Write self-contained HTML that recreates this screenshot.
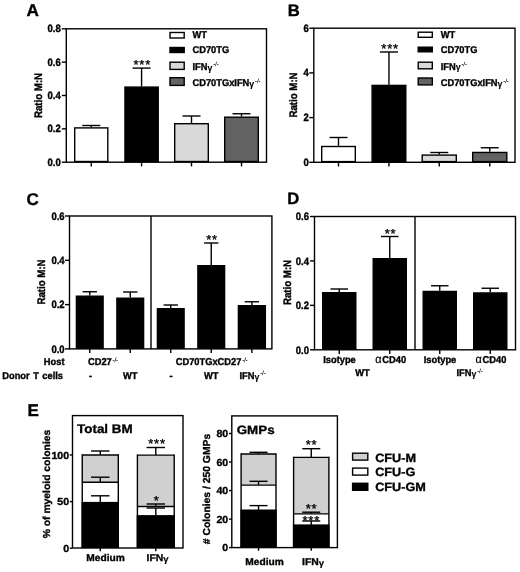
<!DOCTYPE html>
<html><head><meta charset="utf-8"><title>Figure</title>
<style>
html,body{margin:0;padding:0;background:#fff;}
svg{display:block;}
svg text{font-family:"Liberation Sans",Arial,sans-serif;fill:#000;stroke:#000;stroke-width:0.35px;text-rendering:geometricPrecision;}
</style></head>
<body>
<svg width="520" height="572" viewBox="0 0 520 572">
<rect x="0" y="0" width="520" height="572" fill="#fff"/>
<text x="26.5" y="15.5" font-size="17.2" font-weight="bold" text-anchor="start" >A</text>
<rect x="66.3" y="28.8" width="200.2" height="133.4" fill="none" stroke="#000" stroke-width="1.4"/>
<line x1="61.8" y1="28.8" x2="66.3" y2="28.8" stroke="#000" stroke-width="1.4"/>
<text transform="translate(60.8,32.3) scale(1,1.13)" font-size="9.5" font-weight="bold" text-anchor="end" >0.8</text>
<line x1="61.8" y1="62.14999999999999" x2="66.3" y2="62.14999999999999" stroke="#000" stroke-width="1.4"/>
<text transform="translate(60.8,65.64999999999999) scale(1,1.13)" font-size="9.5" font-weight="bold" text-anchor="end" >0.6</text>
<line x1="61.8" y1="95.49999999999999" x2="66.3" y2="95.49999999999999" stroke="#000" stroke-width="1.4"/>
<text transform="translate(60.8,98.99999999999999) scale(1,1.13)" font-size="9.5" font-weight="bold" text-anchor="end" >0.4</text>
<line x1="61.8" y1="128.85" x2="66.3" y2="128.85" stroke="#000" stroke-width="1.4"/>
<text transform="translate(60.8,132.35) scale(1,1.13)" font-size="9.5" font-weight="bold" text-anchor="end" >0.2</text>
<line x1="61.8" y1="162.2" x2="66.3" y2="162.2" stroke="#000" stroke-width="1.4"/>
<text transform="translate(60.8,165.7) scale(1,1.13)" font-size="9.5" font-weight="bold" text-anchor="end" >0.0</text>
<text transform="translate(41.7,95.5) rotate(-90) scale(1,1.12)" font-size="9.7" font-weight="bold" text-anchor="middle">Ratio M:N</text>
<line x1="91.25" y1="125.5" x2="91.25" y2="127.2" stroke="#000" stroke-width="1.4"/>
<line x1="82.25" y1="125.5" x2="100.25" y2="125.5" stroke="#000" stroke-width="1.4"/>
<rect x="74.7" y="127.9" width="33.1" height="33.6" fill="#fff" stroke="#000" stroke-width="1.4"/>
<line x1="91.25" y1="162.2" x2="91.25" y2="166.39999999999998" stroke="#000" stroke-width="1.4"/>
<line x1="141.575" y1="68.1" x2="141.575" y2="86.4" stroke="#000" stroke-width="1.4"/>
<line x1="132.575" y1="68.1" x2="150.575" y2="68.1" stroke="#000" stroke-width="1.4"/>
<rect x="124.95" y="87.1" width="33.25" height="74.4" fill="#000" stroke="#000" stroke-width="1.4"/>
<line x1="141.575" y1="162.2" x2="141.575" y2="166.39999999999998" stroke="#000" stroke-width="1.4"/>
<line x1="191.5" y1="116" x2="191.5" y2="123" stroke="#000" stroke-width="1.4"/>
<line x1="182.5" y1="116" x2="200.5" y2="116" stroke="#000" stroke-width="1.4"/>
<rect x="174.7" y="123.7" width="33.6" height="37.8" fill="#dadada" stroke="#000" stroke-width="1.4"/>
<line x1="191.5" y1="162.2" x2="191.5" y2="166.39999999999998" stroke="#000" stroke-width="1.4"/>
<line x1="241.5" y1="113.75" x2="241.5" y2="116.5" stroke="#000" stroke-width="1.4"/>
<line x1="232.5" y1="113.75" x2="250.5" y2="113.75" stroke="#000" stroke-width="1.4"/>
<rect x="224.7" y="117.2" width="33.6" height="44.3" fill="#636363" stroke="#000" stroke-width="1.4"/>
<line x1="241.5" y1="162.2" x2="241.5" y2="166.39999999999998" stroke="#000" stroke-width="1.4"/>
<text x="142.3" y="68.6" font-size="13" font-weight="normal" text-anchor="middle" stroke-width="0.5" letter-spacing="0.8">***</text>
<rect x="170.0" y="32.5" width="14.2" height="5.5" fill="#fff" stroke="#000" stroke-width="1.4"/>
<text transform="translate(192.5,38.150000000000006) scale(1,1.06)" font-size="9.3" font-weight="bold" text-anchor="start" >WT</text>
<rect x="170.0" y="47.5" width="14.2" height="5.0" fill="#000" stroke="#000" stroke-width="1.4"/>
<text transform="translate(192.5,52.800000000000004) scale(1,1.06)" font-size="9.3" font-weight="bold" text-anchor="start" >CD70TG</text>
<rect x="170.0" y="62.2" width="14.2" height="7.2" fill="#dadada" stroke="#000" stroke-width="1.4"/>
<text transform="translate(192.5,69.75) scale(1,1.06)" font-size="9.3" font-weight="bold" text-anchor="start" >IFN<tspan font-weight="bold" font-size="8.8" dy="0.8" stroke-width="0.1">&#947;</tspan><tspan dx="0.8" dy="-4.0" font-size="5.7" font-weight="bold" font-style="italic" fill="#111" stroke="none">-/-</tspan></text>
<rect x="170.0" y="77.7" width="14.2" height="7.7" fill="#636363" stroke="#000" stroke-width="1.4"/>
<text transform="translate(192.5,86.2) scale(1,1.06)" font-size="9.3" font-weight="bold" text-anchor="start" >CD70TGxIFN<tspan font-weight="bold" font-size="8.8" dy="0.8" stroke-width="0.1">&#947;</tspan><tspan dx="0.8" dy="-4.0" font-size="5.7" font-weight="bold" font-style="italic" fill="#111" stroke="none">-/-</tspan></text>
<text x="287.7" y="15.5" font-size="16.6" font-weight="bold" text-anchor="start" >B</text>
<rect x="313.8" y="28.2" width="201.2" height="134.1" fill="none" stroke="#000" stroke-width="1.4"/>
<line x1="309.3" y1="28.2" x2="313.8" y2="28.2" stroke="#000" stroke-width="1.4"/>
<text transform="translate(308.8,31.7) scale(1,1.13)" font-size="9.5" font-weight="bold" text-anchor="end" >6</text>
<line x1="309.3" y1="72.9" x2="313.8" y2="72.9" stroke="#000" stroke-width="1.4"/>
<text transform="translate(308.8,76.4) scale(1,1.13)" font-size="9.5" font-weight="bold" text-anchor="end" >4</text>
<line x1="309.3" y1="117.60000000000002" x2="313.8" y2="117.60000000000002" stroke="#000" stroke-width="1.4"/>
<text transform="translate(308.8,121.10000000000002) scale(1,1.13)" font-size="9.5" font-weight="bold" text-anchor="end" >2</text>
<line x1="309.3" y1="162.3" x2="313.8" y2="162.3" stroke="#000" stroke-width="1.4"/>
<text transform="translate(308.8,165.8) scale(1,1.13)" font-size="9.5" font-weight="bold" text-anchor="end" >0</text>
<text transform="translate(296.8,95) rotate(-90) scale(1,1.12)" font-size="9.7" font-weight="bold" text-anchor="middle">Ratio M:N</text>
<line x1="338.5" y1="137.5" x2="338.5" y2="145.8" stroke="#000" stroke-width="1.4"/>
<line x1="329.5" y1="137.5" x2="347.5" y2="137.5" stroke="#000" stroke-width="1.4"/>
<rect x="321.7" y="146.5" width="33.6" height="15.1" fill="#fff" stroke="#000" stroke-width="1.4"/>
<line x1="338.5" y1="162.3" x2="338.5" y2="166.5" stroke="#000" stroke-width="1.4"/>
<line x1="388.95" y1="52" x2="388.95" y2="84.7" stroke="#000" stroke-width="1.4"/>
<line x1="379.95" y1="52" x2="397.95" y2="52" stroke="#000" stroke-width="1.4"/>
<rect x="372.1" y="85.4" width="33.7" height="76.2" fill="#000" stroke="#000" stroke-width="1.4"/>
<line x1="388.95" y1="162.3" x2="388.95" y2="166.5" stroke="#000" stroke-width="1.4"/>
<line x1="439.25" y1="152.5" x2="439.25" y2="154.4" stroke="#000" stroke-width="1.4"/>
<line x1="430.25" y1="152.5" x2="448.25" y2="152.5" stroke="#000" stroke-width="1.4"/>
<rect x="422.2" y="155.1" width="34.1" height="6.5" fill="#dadada" stroke="#000" stroke-width="1.4"/>
<line x1="439.25" y1="162.3" x2="439.25" y2="166.5" stroke="#000" stroke-width="1.4"/>
<line x1="489.75" y1="147.75" x2="489.75" y2="151.75" stroke="#000" stroke-width="1.4"/>
<line x1="480.75" y1="147.75" x2="498.75" y2="147.75" stroke="#000" stroke-width="1.4"/>
<rect x="472.7" y="152.45" width="34.1" height="9.15" fill="#636363" stroke="#000" stroke-width="1.4"/>
<line x1="489.75" y1="162.3" x2="489.75" y2="166.5" stroke="#000" stroke-width="1.4"/>
<text x="390.1" y="52.6" font-size="13" font-weight="normal" text-anchor="middle" stroke-width="0.5" letter-spacing="0.8">***</text>
<rect x="418.2" y="32.2" width="14.1" height="5.1" fill="#fff" stroke="#000" stroke-width="1.4"/>
<text transform="translate(440.75,38.2) scale(1,1.06)" font-size="9.3" font-weight="bold" text-anchor="start" >WT</text>
<rect x="418.2" y="47.2" width="14.1" height="4.6" fill="#000" stroke="#000" stroke-width="1.4"/>
<text transform="translate(440.75,52.7) scale(1,1.06)" font-size="9.3" font-weight="bold" text-anchor="start" >CD70TG</text>
<rect x="418.2" y="62.2" width="14.1" height="6.6" fill="#dadada" stroke="#000" stroke-width="1.4"/>
<text transform="translate(440.75,69.60000000000001) scale(1,1.06)" font-size="9.3" font-weight="bold" text-anchor="start" >IFN<tspan font-weight="bold" font-size="8.8" dy="0.8" stroke-width="0.1">&#947;</tspan><tspan dx="0.8" dy="-4.0" font-size="5.7" font-weight="bold" font-style="italic" fill="#111" stroke="none">-/-</tspan></text>
<rect x="418.2" y="78.0" width="14.1" height="6.9" fill="#636363" stroke="#000" stroke-width="1.4"/>
<text transform="translate(440.75,85.9) scale(1,1.06)" font-size="9.3" font-weight="bold" text-anchor="start" >CD70TGxIFN<tspan font-weight="bold" font-size="8.8" dy="0.8" stroke-width="0.1">&#947;</tspan><tspan dx="0.8" dy="-4.0" font-size="5.7" font-weight="bold" font-style="italic" fill="#111" stroke="none">-/-</tspan></text>
<text x="26.5" y="204.6" font-size="17" font-weight="bold" text-anchor="start" >C</text>
<rect x="69.5" y="216" width="202.4" height="132.9" fill="none" stroke="#000" stroke-width="1.4"/>
<line x1="151" y1="216" x2="151" y2="348.9" stroke="#000" stroke-width="1.4"/>
<line x1="65.0" y1="216.0" x2="69.5" y2="216.0" stroke="#000" stroke-width="1.4"/>
<text transform="translate(64.6,219.7) scale(1,1.13)" font-size="9.5" font-weight="bold" text-anchor="end" >0.6</text>
<line x1="65.0" y1="260.3" x2="69.5" y2="260.3" stroke="#000" stroke-width="1.4"/>
<text transform="translate(64.6,264.0) scale(1,1.13)" font-size="9.5" font-weight="bold" text-anchor="end" >0.4</text>
<line x1="65.0" y1="304.59999999999997" x2="69.5" y2="304.59999999999997" stroke="#000" stroke-width="1.4"/>
<text transform="translate(64.6,308.29999999999995) scale(1,1.13)" font-size="9.5" font-weight="bold" text-anchor="end" >0.2</text>
<line x1="65.0" y1="348.9" x2="69.5" y2="348.9" stroke="#000" stroke-width="1.4"/>
<text transform="translate(64.6,352.59999999999997) scale(1,1.13)" font-size="9.5" font-weight="bold" text-anchor="end" >0.0</text>
<text transform="translate(45.4,282) rotate(-90) scale(1,1.12)" font-size="9.7" font-weight="bold" text-anchor="middle">Ratio M:N</text>
<line x1="89.75" y1="291.75" x2="89.75" y2="295.5" stroke="#000" stroke-width="1.4"/>
<line x1="82.6" y1="291.75" x2="96.9" y2="291.75" stroke="#000" stroke-width="1.4"/>
<rect x="76.4" y="296.2" width="26.7" height="52.0" fill="#000" stroke="#000" stroke-width="1.4"/>
<line x1="89.75" y1="348.9" x2="89.75" y2="353.09999999999997" stroke="#000" stroke-width="1.4"/>
<line x1="130.25" y1="292" x2="130.25" y2="297.5" stroke="#000" stroke-width="1.4"/>
<line x1="123.1" y1="292" x2="137.4" y2="292" stroke="#000" stroke-width="1.4"/>
<rect x="116.9" y="298.2" width="26.7" height="50.0" fill="#000" stroke="#000" stroke-width="1.4"/>
<line x1="130.25" y1="348.9" x2="130.25" y2="353.09999999999997" stroke="#000" stroke-width="1.4"/>
<line x1="170.75" y1="305" x2="170.75" y2="308" stroke="#000" stroke-width="1.4"/>
<line x1="163.6" y1="305" x2="177.9" y2="305" stroke="#000" stroke-width="1.4"/>
<rect x="157.4" y="308.7" width="26.7" height="39.5" fill="#000" stroke="#000" stroke-width="1.4"/>
<line x1="170.75" y1="348.9" x2="170.75" y2="353.09999999999997" stroke="#000" stroke-width="1.4"/>
<line x1="211.25" y1="243" x2="211.25" y2="265" stroke="#000" stroke-width="1.4"/>
<line x1="204.1" y1="243" x2="218.4" y2="243" stroke="#000" stroke-width="1.4"/>
<rect x="197.9" y="265.7" width="26.7" height="82.5" fill="#000" stroke="#000" stroke-width="1.4"/>
<line x1="211.25" y1="348.9" x2="211.25" y2="353.09999999999997" stroke="#000" stroke-width="1.4"/>
<line x1="251.875" y1="301.75" x2="251.875" y2="305" stroke="#000" stroke-width="1.4"/>
<line x1="244.725" y1="301.75" x2="259.025" y2="301.75" stroke="#000" stroke-width="1.4"/>
<rect x="238.4" y="305.7" width="26.95" height="42.5" fill="#000" stroke="#000" stroke-width="1.4"/>
<line x1="251.875" y1="348.9" x2="251.875" y2="353.09999999999997" stroke="#000" stroke-width="1.4"/>
<text x="212.1" y="244.1" font-size="13" font-weight="normal" text-anchor="middle" stroke-width="0.5" letter-spacing="0.8">**</text>
<text transform="translate(64.5,365.0) scale(1,1.07)" font-size="9.3" font-weight="bold" text-anchor="end" >Host</text>
<text transform="translate(63,378.75) scale(1,1.07)" font-size="9.3" font-weight="bold" text-anchor="end" word-spacing="0.9">Donor T cells</text>
<text transform="translate(88,365.0) scale(1,1.07)" font-size="9.3" font-weight="bold" text-anchor="start" >CD27<tspan dx="0.8" dy="-3.2" font-size="5.7" font-weight="bold" font-style="italic" fill="#111" stroke="none">-/-</tspan></text>
<text transform="translate(175.75,365.0) scale(1,1.07)" font-size="9.3" font-weight="bold" text-anchor="start" >CD70TGxCD27<tspan dx="0.8" dy="-3.2" font-size="5.7" font-weight="bold" font-style="italic" fill="#111" stroke="none">-/-</tspan></text>
<text transform="translate(90.5,378.75) scale(1,1.07)" font-size="9.3" font-weight="bold" text-anchor="middle" >-</text>
<text transform="translate(130.3,378.75) scale(1,1.07)" font-size="9.3" font-weight="bold" text-anchor="middle" >WT</text>
<text transform="translate(171,378.75) scale(1,1.07)" font-size="9.3" font-weight="bold" text-anchor="middle" >-</text>
<text transform="translate(211.2,378.75) scale(1,1.07)" font-size="9.3" font-weight="bold" text-anchor="middle" >WT</text>
<text transform="translate(239.5,378.75) scale(1,1.07)" font-size="9.3" font-weight="bold" text-anchor="start" >IFN<tspan font-weight="bold" font-size="8.8" dy="0.8" stroke-width="0.1">&#947;</tspan><tspan dx="0.8" dy="-4.0" font-size="5.7" font-weight="bold" font-style="italic" fill="#111" stroke="none">-/-</tspan></text>
<text x="287.3" y="204.3" font-size="16.6" font-weight="bold" text-anchor="start" >D</text>
<rect x="314.5" y="216.5" width="201.0" height="133.3" fill="none" stroke="#000" stroke-width="1.4"/>
<line x1="415" y1="216.5" x2="415" y2="349.8" stroke="#000" stroke-width="1.4"/>
<line x1="310.0" y1="216.5" x2="314.5" y2="216.5" stroke="#000" stroke-width="1.4"/>
<text transform="translate(309.0,220.2) scale(1,1.13)" font-size="9.5" font-weight="bold" text-anchor="end" >0.6</text>
<line x1="310.0" y1="260.93333333333334" x2="314.5" y2="260.93333333333334" stroke="#000" stroke-width="1.4"/>
<text transform="translate(309.0,264.6333333333333) scale(1,1.13)" font-size="9.5" font-weight="bold" text-anchor="end" >0.4</text>
<line x1="310.0" y1="305.3666666666667" x2="314.5" y2="305.3666666666667" stroke="#000" stroke-width="1.4"/>
<text transform="translate(309.0,309.06666666666666) scale(1,1.13)" font-size="9.5" font-weight="bold" text-anchor="end" >0.2</text>
<line x1="310.0" y1="349.8" x2="314.5" y2="349.8" stroke="#000" stroke-width="1.4"/>
<text transform="translate(309.0,353.5) scale(1,1.13)" font-size="9.5" font-weight="bold" text-anchor="end" >0.0</text>
<text transform="translate(290.7,282.5) rotate(-90) scale(1,1.12)" font-size="9.7" font-weight="bold" text-anchor="middle">Ratio M:N</text>
<line x1="339.25" y1="289" x2="339.25" y2="292" stroke="#000" stroke-width="1.4"/>
<line x1="330.5" y1="289" x2="348.0" y2="289" stroke="#000" stroke-width="1.4"/>
<rect x="322.7" y="292.7" width="33.1" height="56.4" fill="#000" stroke="#000" stroke-width="1.4"/>
<line x1="339.25" y1="349.8" x2="339.25" y2="354.0" stroke="#000" stroke-width="1.4"/>
<line x1="389.75" y1="236.5" x2="389.75" y2="258" stroke="#000" stroke-width="1.4"/>
<line x1="381.0" y1="236.5" x2="398.5" y2="236.5" stroke="#000" stroke-width="1.4"/>
<rect x="373.2" y="258.7" width="33.1" height="90.4" fill="#000" stroke="#000" stroke-width="1.4"/>
<line x1="389.75" y1="349.8" x2="389.75" y2="354.0" stroke="#000" stroke-width="1.4"/>
<line x1="439.75" y1="285.75" x2="439.75" y2="290.75" stroke="#000" stroke-width="1.4"/>
<line x1="431.0" y1="285.75" x2="448.5" y2="285.75" stroke="#000" stroke-width="1.4"/>
<rect x="423.2" y="291.45" width="33.1" height="57.65" fill="#000" stroke="#000" stroke-width="1.4"/>
<line x1="439.75" y1="349.8" x2="439.75" y2="354.0" stroke="#000" stroke-width="1.4"/>
<line x1="490.25" y1="288.25" x2="490.25" y2="292.25" stroke="#000" stroke-width="1.4"/>
<line x1="481.5" y1="288.25" x2="499.0" y2="288.25" stroke="#000" stroke-width="1.4"/>
<rect x="473.7" y="292.95" width="33.1" height="56.15" fill="#000" stroke="#000" stroke-width="1.4"/>
<line x1="490.25" y1="349.8" x2="490.25" y2="354.0" stroke="#000" stroke-width="1.4"/>
<text x="390.6" y="237.6" font-size="13" font-weight="normal" text-anchor="middle" stroke-width="0.5" letter-spacing="0.8">**</text>
<text transform="translate(339.5,363.25) scale(1,1.07)" font-size="9.3" font-weight="bold" text-anchor="middle" >Isotype</text>
<text transform="translate(440,363.25) scale(1,1.07)" font-size="9.3" font-weight="bold" text-anchor="middle" >Isotype</text>
<text transform="translate(375.2,363.25) scale(1,1.07)" font-size="9.3" font-weight="bold" text-anchor="start" ><tspan font-weight="normal" font-size="11" stroke-width="0.2">&#945;</tspan><tspan dx="0.8">CD40</tspan></text>
<text transform="translate(475.4,363.25) scale(1,1.07)" font-size="9.3" font-weight="bold" text-anchor="start" ><tspan font-weight="normal" font-size="11" stroke-width="0.2">&#945;</tspan><tspan dx="0.8">CD40</tspan></text>
<text transform="translate(362.5,376.25) scale(1,1.07)" font-size="9.3" font-weight="bold" text-anchor="middle" >WT</text>
<text transform="translate(456.5,376.25) scale(1,1.07)" font-size="9.3" font-weight="bold" text-anchor="start" >IFN<tspan font-weight="bold" font-size="8.8" dy="0.8" stroke-width="0.1">&#947;</tspan><tspan dx="0.8" dy="-4.0" font-size="5.7" font-weight="bold" font-style="italic" fill="#111" stroke="none">-/-</tspan></text>
<text x="27.5" y="415.5" font-size="17" font-weight="bold" text-anchor="start" >E</text>
<rect x="72.5" y="415.6" width="110.5" height="132.4" fill="none" stroke="#000" stroke-width="1.4"/>
<line x1="69.7" y1="455" x2="72.5" y2="455" stroke="#000" stroke-width="1.4"/>
<text transform="translate(69.1,458.6) scale(1,0.97)" font-size="10.6" font-weight="bold" text-anchor="end" >100</text>
<line x1="69.7" y1="501.6" x2="72.5" y2="501.6" stroke="#000" stroke-width="1.4"/>
<text transform="translate(69.1,505.20000000000005) scale(1,0.97)" font-size="10.6" font-weight="bold" text-anchor="end" >50</text>
<line x1="69.7" y1="548.2" x2="72.5" y2="548.2" stroke="#000" stroke-width="1.4"/>
<text transform="translate(69.1,551.8000000000001) scale(1,0.97)" font-size="10.6" font-weight="bold" text-anchor="end" >0</text>
<text transform="translate(49.5,484) rotate(-90) scale(1,0.98)" font-size="10.35" font-weight="bold" text-anchor="middle">% of myeloid colonies</text>
<text transform="translate(77.1,433.25) scale(1,0.93)" font-size="13.4" font-weight="bold" text-anchor="start" >Total BM</text>
<line x1="100.275" y1="451" x2="100.275" y2="455" stroke="#000" stroke-width="1.4"/>
<line x1="91.025" y1="451" x2="109.525" y2="451" stroke="#000" stroke-width="1.4"/>
<rect x="82.25" y="455" width="36.05" height="27.3" fill="#d0d0d0"/>
<rect x="82.25" y="482.3" width="36.05" height="20.3" fill="#fff"/>
<rect x="81.55" y="501.9" width="37.45" height="46.1" fill="#000"/>
<line x1="82.25" y1="454.3" x2="82.25" y2="548.0" stroke="#000" stroke-width="1.4"/>
<line x1="118.3" y1="454.3" x2="118.3" y2="548.0" stroke="#000" stroke-width="1.4"/>
<line x1="82.25" y1="455" x2="118.3" y2="455" stroke="#000" stroke-width="1.4"/>
<line x1="82.25" y1="482.3" x2="118.3" y2="482.3" stroke="#000" stroke-width="1.4"/>
<line x1="100.275" y1="477.2" x2="100.275" y2="482.3" stroke="#000" stroke-width="1.4"/>
<line x1="91.025" y1="477.2" x2="109.525" y2="477.2" stroke="#000" stroke-width="1.4"/>
<line x1="100.275" y1="495.8" x2="100.275" y2="502.6" stroke="#000" stroke-width="1.4"/>
<line x1="91.025" y1="495.8" x2="109.525" y2="495.8" stroke="#000" stroke-width="1.4"/>
<line x1="100.275" y1="548.0" x2="100.275" y2="551.2" stroke="#000" stroke-width="1.4"/>
<line x1="155.8" y1="447.5" x2="155.8" y2="455.1" stroke="#000" stroke-width="1.4"/>
<line x1="146.55" y1="447.5" x2="165.05" y2="447.5" stroke="#000" stroke-width="1.4"/>
<rect x="137.4" y="455.1" width="36.8" height="51.4" fill="#d0d0d0"/>
<rect x="137.4" y="506.5" width="36.8" height="9.3" fill="#fff"/>
<rect x="136.7" y="515.1" width="38.2" height="32.9" fill="#000"/>
<line x1="137.4" y1="454.40000000000003" x2="137.4" y2="548.0" stroke="#000" stroke-width="1.4"/>
<line x1="174.2" y1="454.40000000000003" x2="174.2" y2="548.0" stroke="#000" stroke-width="1.4"/>
<line x1="137.4" y1="455.1" x2="174.2" y2="455.1" stroke="#000" stroke-width="1.4"/>
<line x1="137.4" y1="506.5" x2="174.2" y2="506.5" stroke="#000" stroke-width="1.4"/>
<line x1="155.8" y1="504" x2="155.8" y2="506.5" stroke="#000" stroke-width="1.4"/>
<line x1="146.55" y1="504" x2="165.05" y2="504" stroke="#000" stroke-width="1.4"/>
<line x1="155.8" y1="508" x2="155.8" y2="515.8" stroke="#000" stroke-width="1.4"/>
<line x1="146.55" y1="508" x2="165.05" y2="508" stroke="#000" stroke-width="1.4"/>
<line x1="155.8" y1="548.0" x2="155.8" y2="551.2" stroke="#000" stroke-width="1.4"/>
<text x="157.0" y="447.9" font-size="13" font-weight="normal" text-anchor="middle" stroke-width="0.5" letter-spacing="0.8">***</text>
<text x="156.6" y="504.5" font-size="13" font-weight="normal" text-anchor="middle" stroke-width="0.5" letter-spacing="0.8">*</text>
<text transform="translate(105.6,560.8) scale(1,0.96)" font-size="10.2" font-weight="bold" text-anchor="middle" >Medium</text>
<text transform="translate(157.6,560.8) scale(1,0.96)" font-size="10.4" font-weight="bold" text-anchor="middle" >IFN<tspan font-weight="bold" font-size="9.6" dy="0.9" stroke-width="0.15">&#947;</tspan></text>
<rect x="231.8" y="415.9" width="105.6" height="131.7" fill="none" stroke="#000" stroke-width="1.4"/>
<line x1="229.0" y1="433.5" x2="231.8" y2="433.5" stroke="#000" stroke-width="1.4"/>
<text transform="translate(228.20000000000002,437.1) scale(1,0.97)" font-size="10.6" font-weight="bold" text-anchor="end" >80</text>
<line x1="229.0" y1="462.025" x2="231.8" y2="462.025" stroke="#000" stroke-width="1.4"/>
<text transform="translate(228.20000000000002,465.625) scale(1,0.97)" font-size="10.6" font-weight="bold" text-anchor="end" >60</text>
<line x1="229.0" y1="490.55" x2="231.8" y2="490.55" stroke="#000" stroke-width="1.4"/>
<text transform="translate(228.20000000000002,494.15000000000003) scale(1,0.97)" font-size="10.6" font-weight="bold" text-anchor="end" >40</text>
<line x1="229.0" y1="519.075" x2="231.8" y2="519.075" stroke="#000" stroke-width="1.4"/>
<text transform="translate(228.20000000000002,522.6750000000001) scale(1,0.97)" font-size="10.6" font-weight="bold" text-anchor="end" >20</text>
<line x1="229.0" y1="547.6" x2="231.8" y2="547.6" stroke="#000" stroke-width="1.4"/>
<text transform="translate(228.20000000000002,551.2) scale(1,0.97)" font-size="10.6" font-weight="bold" text-anchor="end" >0</text>
<text transform="translate(209.5,489) rotate(-90) scale(1,0.98)" font-size="10.35" font-weight="bold" text-anchor="middle"># Colonies / 250 GMPs</text>
<text transform="translate(236.7,434.2) scale(1,0.9)" font-size="13.4" font-weight="bold" text-anchor="start" >GMPs</text>
<line x1="258.55" y1="452.3" x2="258.55" y2="454" stroke="#000" stroke-width="1.4"/>
<line x1="249.55" y1="452.3" x2="267.55" y2="452.3" stroke="#000" stroke-width="1.4"/>
<rect x="241.1" y="454" width="34.9" height="31.1" fill="#d0d0d0"/>
<rect x="241.1" y="485.1" width="34.9" height="25.1" fill="#fff"/>
<rect x="240.4" y="509.5" width="36.3" height="38.1" fill="#000"/>
<line x1="241.1" y1="453.3" x2="241.1" y2="547.6" stroke="#000" stroke-width="1.4"/>
<line x1="276" y1="453.3" x2="276" y2="547.6" stroke="#000" stroke-width="1.4"/>
<line x1="241.1" y1="454" x2="276" y2="454" stroke="#000" stroke-width="1.4"/>
<line x1="241.1" y1="485.1" x2="276" y2="485.1" stroke="#000" stroke-width="1.4"/>
<line x1="258.55" y1="481.3" x2="258.55" y2="485.1" stroke="#000" stroke-width="1.4"/>
<line x1="249.55" y1="481.3" x2="267.55" y2="481.3" stroke="#000" stroke-width="1.4"/>
<line x1="258.55" y1="505.6" x2="258.55" y2="510.2" stroke="#000" stroke-width="1.4"/>
<line x1="249.55" y1="505.6" x2="267.55" y2="505.6" stroke="#000" stroke-width="1.4"/>
<line x1="258.55" y1="547.6" x2="258.55" y2="550.8000000000001" stroke="#000" stroke-width="1.4"/>
<line x1="311.25" y1="448.7" x2="311.25" y2="457.4" stroke="#000" stroke-width="1.4"/>
<line x1="302.25" y1="448.7" x2="320.25" y2="448.7" stroke="#000" stroke-width="1.4"/>
<rect x="293.6" y="457.4" width="35.3" height="56.5" fill="#d0d0d0"/>
<rect x="293.6" y="513.9" width="35.3" height="11.2" fill="#fff"/>
<rect x="292.9" y="524.4" width="36.7" height="23.2" fill="#000"/>
<line x1="293.6" y1="456.7" x2="293.6" y2="547.6" stroke="#000" stroke-width="1.4"/>
<line x1="328.9" y1="456.7" x2="328.9" y2="547.6" stroke="#000" stroke-width="1.4"/>
<line x1="293.6" y1="457.4" x2="328.9" y2="457.4" stroke="#000" stroke-width="1.4"/>
<line x1="293.6" y1="513.9" x2="328.9" y2="513.9" stroke="#000" stroke-width="1.4"/>
<line x1="311.25" y1="512.2" x2="311.25" y2="513.9" stroke="#000" stroke-width="1.4"/>
<line x1="302.25" y1="512.2" x2="320.25" y2="512.2" stroke="#000" stroke-width="1.4"/>
<line x1="311.25" y1="521" x2="311.25" y2="525.1" stroke="#000" stroke-width="1.4"/>
<line x1="302.25" y1="521" x2="320.25" y2="521" stroke="#000" stroke-width="1.4"/>
<line x1="311.25" y1="547.6" x2="311.25" y2="550.8000000000001" stroke="#000" stroke-width="1.4"/>
<text x="311.5" y="449.3" font-size="13" font-weight="normal" text-anchor="middle" stroke-width="0.5" letter-spacing="0.8">**</text>
<text x="311.5" y="512.5" font-size="13" font-weight="normal" text-anchor="middle" stroke-width="0.5" letter-spacing="0.8">**</text>
<text x="311.3" y="525.2" font-size="13" font-weight="normal" text-anchor="middle" stroke-width="0.5" letter-spacing="0.8">***</text>
<text transform="translate(264.6,564.8) scale(1,0.96)" font-size="10.2" font-weight="bold" text-anchor="middle" >Medium</text>
<text transform="translate(313.1,564.8) scale(1,0.96)" font-size="10.4" font-weight="bold" text-anchor="middle" >IFN<tspan font-weight="bold" font-size="9.6" dy="0.9" stroke-width="0.15">&#947;</tspan></text>
<rect x="352.6" y="453.2" width="15.2" height="6.9" fill="#d0d0d0" stroke="#000" stroke-width="1.4"/>
<text transform="translate(375.2,461.5) scale(1,0.95)" font-size="12.7" font-weight="bold" text-anchor="start" >CFU-M</text>
<rect x="352.6" y="468.1" width="15.2" height="7.0" fill="#fff" stroke="#000" stroke-width="1.4"/>
<text transform="translate(375.2,476.25) scale(1,0.95)" font-size="12.7" font-weight="bold" text-anchor="start" >CFU-G</text>
<rect x="352.6" y="483.3" width="15.2" height="7.0" fill="#000" stroke="#000" stroke-width="1.4"/>
<text transform="translate(375.2,491) scale(1,0.95)" font-size="12.7" font-weight="bold" text-anchor="start" >CFU-GM</text>
</svg>
</body></html>
